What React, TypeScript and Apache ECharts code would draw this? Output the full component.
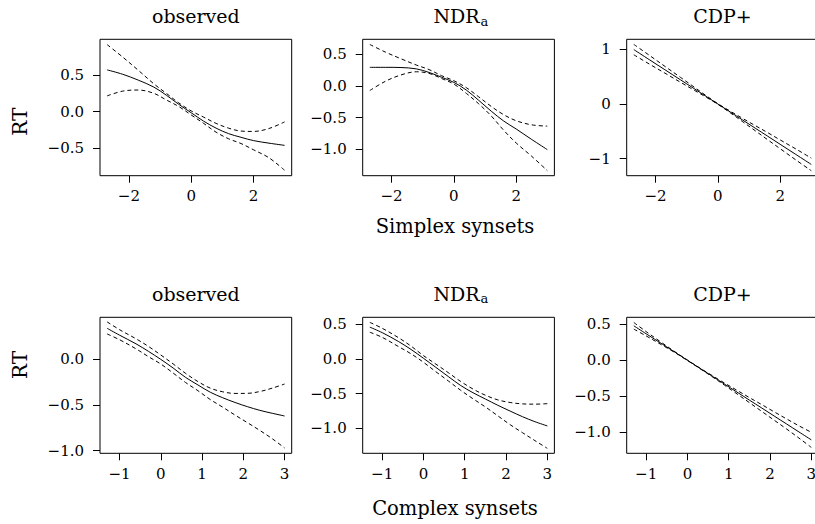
import React, { useEffect, useRef } from "react";
import * as echarts from "echarts";

// ---------- data ----------
const X_SIMPLEX = [-2.7, -2.2, -1.7, -1.2, -0.8, -0.4, 0, 0.4, 0.8, 1.2, 1.6, 2.0, 2.5, 3.0];
const X_COMPLEX = [-1.3, -1.0, -0.6, -0.3, 0, 0.3, 0.6, 0.9, 1.2, 1.5, 1.8, 2.1, 2.4, 2.7, 3.0];

const SIMPLEX_OBS_FIT = [0.57, 0.51, 0.43, 0.335, 0.225, 0.1, -0.015, -0.13, -0.225, -0.3, -0.35, -0.395, -0.43, -0.46];
const SIMPLEX_OBS_UP = [0.915, 0.745, 0.565, 0.38, 0.25, 0.12, 0.01, -0.075, -0.16, -0.225, -0.265, -0.27, -0.23, -0.14];
const SIMPLEX_OBS_LO = [0.215, 0.28, 0.295, 0.25, 0.16, 0.07, -0.045, -0.16, -0.28, -0.37, -0.435, -0.52, -0.63, -0.8];

const SIMPLEX_NDR_FIT = [0.29, 0.29, 0.287, 0.265, 0.21, 0.135, 0.053, -0.068, -0.23, -0.4, -0.555, -0.68, -0.845, -1.005];
const SIMPLEX_NDR_UP = [0.65, 0.53, 0.425, 0.325, 0.255, 0.16, 0.079, -0.03, -0.175, -0.325, -0.455, -0.55, -0.615, -0.635];
const SIMPLEX_NDR_LO = [-0.075, 0.07, 0.17, 0.22, 0.195, 0.115, 0.026, -0.12, -0.285, -0.475, -0.7, -0.9, -1.11, -1.335];

const SIMPLEX_CDP_FIT = [0.995, 0.81, 0.626, 0.442, 0.295, 0.147, 0.0, -0.147, -0.295, -0.442, -0.589, -0.737, -0.921, -1.105];
const SIMPLEX_CDP_UP = [1.09, 0.89, 0.688, 0.487, 0.325, 0.162, 0.006, -0.132, -0.265, -0.395, -0.524, -0.657, -0.821, -0.99];
const SIMPLEX_CDP_LO = [0.9, 0.73, 0.564, 0.397, 0.265, 0.132, -0.006, -0.162, -0.325, -0.489, -0.654, -0.817, -1.021, -1.22];

const COMPLEX_OBS_FIT = [0.34, 0.265, 0.17, 0.088, 0.0, -0.095, -0.197, -0.28, -0.36, -0.42, -0.472, -0.518, -0.558, -0.59, -0.62];
const COMPLEX_OBS_UP = [0.41, 0.325, 0.225, 0.142, 0.048, -0.05, -0.153, -0.243, -0.315, -0.355, -0.373, -0.372, -0.352, -0.315, -0.27];
const COMPLEX_OBS_LO = [0.278, 0.215, 0.115, 0.03, -0.051, -0.15, -0.253, -0.343, -0.44, -0.523, -0.61, -0.693, -0.778, -0.868, -0.97];

const COMPLEX_NDR_FIT = [0.459, 0.38, 0.25, 0.137, 0.01, -0.121, -0.253, -0.382, -0.487, -0.578, -0.668, -0.752, -0.833, -0.905, -0.966];
const COMPLEX_NDR_UP = [0.528, 0.443, 0.305, 0.185, 0.048, -0.074, -0.197, -0.324, -0.434, -0.523, -0.59, -0.628, -0.648, -0.652, -0.645];
const COMPLEX_NDR_LO = [0.386, 0.312, 0.177, 0.074, -0.048, -0.184, -0.316, -0.451, -0.574, -0.692, -0.82, -0.948, -1.064, -1.178, -1.289];

const COMPLEX_CDP_FIT = [0.479, 0.368, 0.221, 0.111, 0.0, -0.111, -0.221, -0.332, -0.442, -0.553, -0.663, -0.774, -0.884, -0.995, -1.105];
const COMPLEX_CDP_UP = [0.525, 0.398, 0.236, 0.117, 0.003, -0.107, -0.213, -0.317, -0.417, -0.518, -0.616, -0.716, -0.814, -0.91, -1.0];
const COMPLEX_CDP_LO = [0.433, 0.338, 0.206, 0.105, -0.003, -0.115, -0.229, -0.347, -0.467, -0.588, -0.71, -0.832, -0.954, -1.08, -1.21];

const TITLES = ["observed", "NDR", "CDP+"];
const ROW_NAMES = ["Simplex synsets", "Complex synsets"];
const Y_NAME = "RT";

const X_TICKS_SIMPLEX = [-2, 0, 2];
const X_TICKS_COMPLEX = [-1, 0, 1, 2, 3];
const Y_TICKS = [
  [-0.5, 0, 0.5],
  [-1, -0.5, 0, 0.5],
  [-1, 0, 1],
  [-1, -0.5, 0],
  [-1, -0.5, 0, 0.5],
  [-1, -0.5, 0, 0.5],
];
const Y_DECIMALS = [1, 1, 0, 1, 1, 1];

// ---------- layout ----------
const FONT = "'DejaVu Serif', serif";
const COL_LEFT = [100, 362.7, 626.7];
const ROW_TOP = [39.3, 317.3];
const ROW_H = [136.4, 136];
const PANEL_W = 191.7;

const X_RANGE_SIMPLEX: [number, number] = [-2.928, 3.228];
const X_RANGE_COMPLEX: [number, number] = [-1.472, 3.172];
const Y_RANGES: [number, number][] = [
  [-0.874, 0.987],
  [-1.415, 0.731],
  [-1.311, 1.183],
  [-1.028, 0.46],
  [-1.361, 0.601],
  [-1.292, 0.597],
];

const PANELS = [
  { x: X_SIMPLEX, fit: SIMPLEX_OBS_FIT, up: SIMPLEX_OBS_UP, lo: SIMPLEX_OBS_LO },
  { x: X_SIMPLEX, fit: SIMPLEX_NDR_FIT, up: SIMPLEX_NDR_UP, lo: SIMPLEX_NDR_LO },
  { x: X_SIMPLEX, fit: SIMPLEX_CDP_FIT, up: SIMPLEX_CDP_UP, lo: SIMPLEX_CDP_LO },
  { x: X_COMPLEX, fit: COMPLEX_OBS_FIT, up: COMPLEX_OBS_UP, lo: COMPLEX_OBS_LO },
  { x: X_COMPLEX, fit: COMPLEX_NDR_FIT, up: COMPLEX_NDR_UP, lo: COMPLEX_NDR_LO },
  { x: X_COMPLEX, fit: COMPLEX_CDP_FIT, up: COMPLEX_CDP_UP, lo: COMPLEX_CDP_LO },
];

const fmt = (d: number) => (v: number) => {
  const s = Math.abs(v).toFixed(d);
  return v < 0 ? "\u2212" + s : s;
};

export default function App() {
  const ref = useRef<HTMLDivElement>(null);
  useEffect(() => {
    if (!ref.current) return;
    const chart = echarts.init(ref.current, undefined, { renderer: "svg" });
    const grids: any[] = [];
    const xAxes: any[] = [];
    const yAxes: any[] = [];
    const series: any[] = [];
    const graphic: any[] = [];

    PANELS.forEach((p, i) => {
      const row = Math.floor(i / 3);
      const col = i % 3;
      grids.push({
        left: COL_LEFT[col],
        top: ROW_TOP[row],
        width: PANEL_W,
        height: ROW_H[row],
        show: true,
        borderColor: "#000",
        borderWidth: 1,
        backgroundColor: "transparent",
        containLabel: false,
        outerBoundsMode: "none",
      });
      const xr = row === 0 ? X_RANGE_SIMPLEX : X_RANGE_COMPLEX;
      const xt = row === 0 ? X_TICKS_SIMPLEX : X_TICKS_COMPLEX;
      xAxes.push({
        type: "value",
        gridIndex: i,
        position: "bottom",
        min: xr[0],
        max: xr[1],
        axisLine: { show: false, onZero: false },
        splitLine: { show: false },
        axisTick: { show: true, length: 7, lineStyle: { color: "#000", width: 1 }, customValues: xt },
        axisLabel: {
          customValues: xt,
          formatter: fmt(0),
          margin: 13,
          color: "#000",
          fontFamily: FONT,
          fontSize: 15,
          hideOverlap: false,
        },
      });
      yAxes.push({
        type: "value",
        gridIndex: i,
        position: "left",
        min: Y_RANGES[i][0],
        max: Y_RANGES[i][1],
        axisLine: { show: false, onZero: false },
        splitLine: { show: false },
        axisTick: { show: true, length: 7, lineStyle: { color: "#000", width: 1 }, customValues: Y_TICKS[i] },
        axisLabel: {
          customValues: Y_TICKS[i],
          formatter: fmt(Y_DECIMALS[i]),
          margin: 16,
          color: "#000",
          fontFamily: FONT,
          fontSize: 15,
        },
      });
      const mk = (ys: number[], dashed: boolean) => ({
        type: "line",
        xAxisIndex: i,
        yAxisIndex: i,
        data: p.x.map((xv, j) => [xv, ys[j]]),
        showSymbol: false,
        symbol: "none",
        smooth: 0.35,
        silent: true,
        lineStyle: { color: "#000", width: 1, type: dashed ? [4, 3] : "solid" },
      });
      series.push(mk(p.fit, false), mk(p.up, true), mk(p.lo, true));

      // titles
      const cx = COL_LEFT[col] + PANEL_W / 2;
      const ty = row === 0 ? 16 : 293.5;
      if (col === 1) {
        graphic.push({
          type: "text",
          x: cx + 21,
          y: ty,
          style: { text: TITLES[col], fill: "#000", fontFamily: FONT, fontSize: 19, textAlign: "right", textVerticalAlign: "middle" },
        });
        graphic.push({
          type: "text",
          x: cx + 22,
          y: ty + 5,
          style: { text: "a", fill: "#000", fontFamily: FONT, fontSize: 13, textAlign: "left", textVerticalAlign: "middle" },
        });
      } else {
        graphic.push({
          type: "text",
          x: cx,
          y: ty,
          style: { text: TITLES[col], fill: "#000", fontFamily: FONT, fontSize: 19, textAlign: "center", textVerticalAlign: "middle" },
        });
      }
    });

    graphic.push(
      { type: "text", x: 19.5, y: 121.7, rotation: Math.PI / 2, style: { text: Y_NAME, fill: "#000", fontFamily: FONT, fontSize: 20, textAlign: "center", textVerticalAlign: "middle" } },
      { type: "text", x: 19.5, y: 365, rotation: Math.PI / 2, style: { text: Y_NAME, fill: "#000", fontFamily: FONT, fontSize: 20, textAlign: "center", textVerticalAlign: "middle" } },
      { type: "text", x: 455, y: 226.5, style: { text: ROW_NAMES[0], fill: "#000", fontFamily: FONT, fontSize: 19.5, textAlign: "center", textVerticalAlign: "middle" } },
      { type: "text", x: 455, y: 508.5, style: { text: ROW_NAMES[1], fill: "#000", fontFamily: FONT, fontSize: 19.5, textAlign: "center", textVerticalAlign: "middle" } }
    );

    chart.setOption({
      animation: false,
      backgroundColor: "#fff",
      grid: grids,
      xAxis: xAxes,
      yAxis: yAxes,
      series,
      graphic,
    });
    return () => chart.dispose();
  }, []);
  return <div ref={ref} style={{ position: "absolute", left: 0, top: 0, width: 815, height: 524 }} />;
}
